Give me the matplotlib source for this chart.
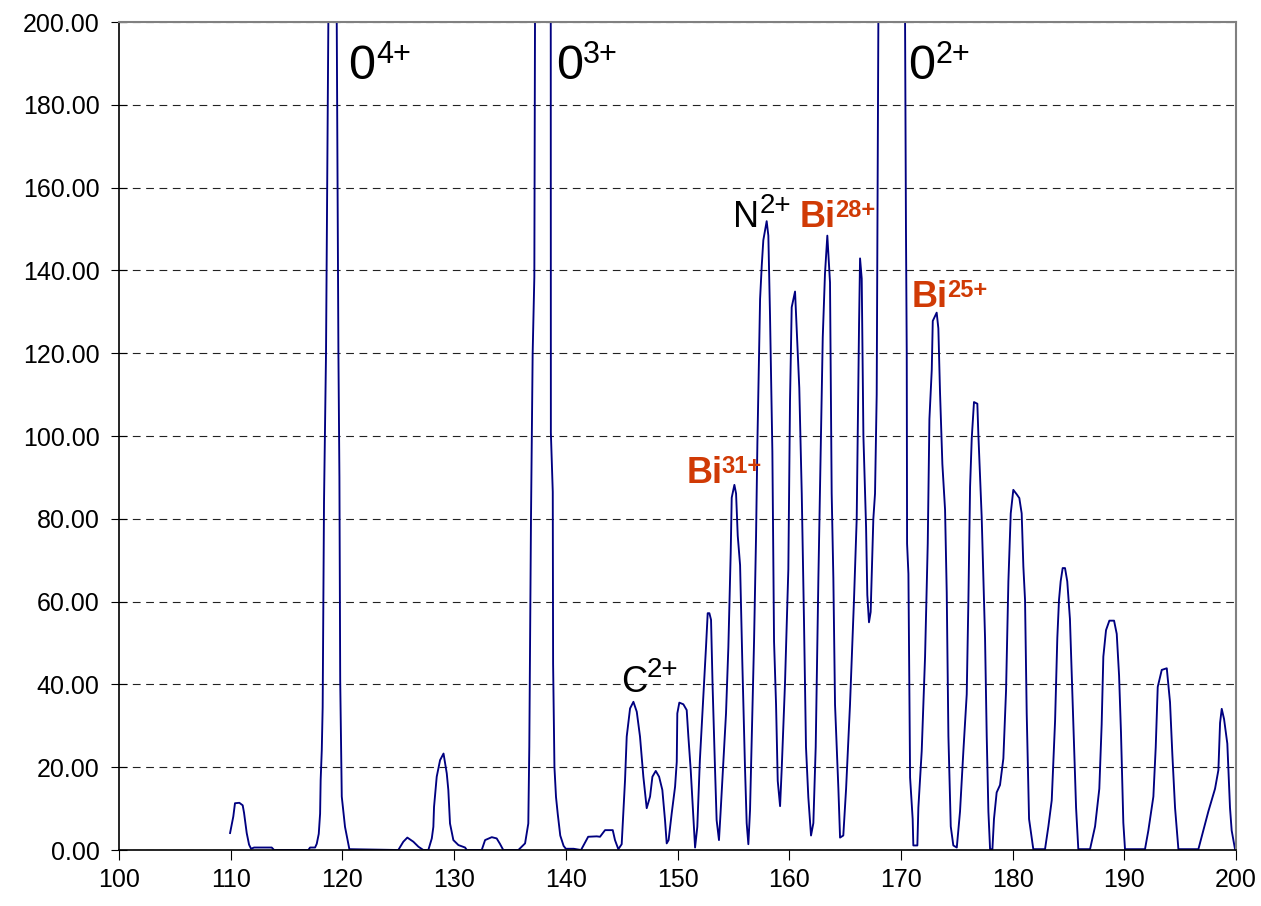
import numpy as np
import matplotlib.pyplot as plt

plt.rcParams['font.family'] = ['Liberation Sans', 'DejaVu Sans']

# spectrum trace: mass-to-charge position and counts
pos = [109.94, 110.23, 110.38, 110.77, 111.07, 111.19, 111.43, 111.64, 111.82, 112.09,
       113.67, 113.88, 116.95, 117.1, 117.55, 117.7, 117.88, 118.0, 118.05, 118.15,
       118.23, 118.35, 118.53, 118.74, 119.1, 119.49, 119.64, 119.73, 119.8, 119.94,
       120.23, 120.62, 125.0, 125.45, 125.81, 126.35, 126.8, 127.24, 127.69, 128.0,
       128.14, 128.2, 128.44, 128.74, 129.05, 129.34, 129.48, 129.63, 129.93, 130.38,
       130.98, 131.13, 132.47, 132.77, 133.37, 133.81, 134.1, 134.4, 135.75, 136.35,
       136.64, 136.73, 136.88, 137.03, 137.18, 137.24, 137.95, 138.65, 138.66, 138.83,
       138.86, 138.98, 139.12, 139.28, 139.5, 139.8, 140.0, 140.7, 141.36, 142.0,
       142.77, 143.06, 143.51, 144.2, 144.4, 144.7, 145.0, 145.3, 145.45, 145.75,
       146.05, 146.35, 146.64, 146.94, 147.24, 147.54, 147.75, 148.05, 148.35, 148.64,
       148.88, 149.03, 149.2, 149.48, 149.78, 149.93, 149.98, 150.16, 150.52, 150.82,
       150.97, 151.18, 151.36, 151.57, 151.77, 152.0, 152.31, 152.55, 152.7, 152.85,
       153.0, 153.14, 153.35, 153.5, 153.71, 153.85, 154.1, 154.34, 154.55, 154.76,
       154.85, 155.09, 155.24, 155.39, 155.6, 155.8, 156.04, 156.19, 156.34, 156.49,
       156.64, 156.85, 157.03, 157.15, 157.3, 157.39, 157.54, 157.68, 157.98, 158.13,
       158.28, 158.49, 158.64, 158.82, 158.97, 159.18, 159.33, 159.62, 159.92, 160.07,
       160.22, 160.52, 160.73, 160.9, 161.12, 161.32, 161.5, 161.71, 161.95, 162.16,
       162.37, 162.61, 162.82, 163.0, 163.2, 163.41, 163.5, 163.65, 163.8, 163.95,
       164.1, 164.4, 164.55, 164.84, 165.09, 165.44, 165.8, 166.04, 166.25, 166.34,
       166.49, 166.64, 166.88, 166.99, 167.14, 167.29, 167.53, 167.68, 167.83, 167.98,
       169.2, 170.37, 170.45, 170.52, 170.55, 170.67, 170.76, 170.82, 171.05, 171.11,
       171.47, 171.56, 171.86, 172.16, 172.4, 172.55, 172.76, 172.85, 173.2, 173.35,
       173.5, 173.71, 173.95, 174.1, 174.25, 174.46, 174.69, 175.0, 175.29, 175.59,
       175.89, 176.04, 176.19, 176.34, 176.54, 176.84, 176.93, 177.23, 177.53, 177.68,
       177.83, 177.98, 178.19, 178.33, 178.57, 178.87, 179.17, 179.41, 179.62, 179.83,
       180.06, 180.37, 180.6, 180.81, 180.96, 181.11, 181.26, 181.47, 181.85, 182.9,
       183.2, 183.5, 183.8, 184.0, 184.15, 184.3, 184.48, 184.69, 184.89, 185.13,
       185.43, 185.68, 185.88, 186.93, 187.38, 187.76, 187.97, 188.12, 188.36, 188.66,
       189.08, 189.32, 189.53, 189.7, 189.91, 190.06, 191.85, 192.15, 192.6, 192.81,
       192.99, 193.35, 193.8, 194.09, 194.3, 194.54, 194.84, 196.63, 197.07, 197.52,
       198.12, 198.42, 198.57, 198.72, 198.93, 199.22, 199.46, 199.61, 199.91]
counts = [4.1, 8.1, 11.3, 11.4, 10.8, 9.0, 4.1, 1.3, 0.3, 0.6,
          0.6, 0.0, 0.0, 0.6, 0.6, 1.5, 3.9, 8.8, 16.9, 24.1,
          34.5, 84, 120, 200.8, 330, 200, 120, 90, 41, 12.9,
          5.6, 0.2, 0.0, 2.0, 3.0, 2.0, 0.8, 0.0, 0.0, 2.8,
          5.6, 10.4, 17.7, 21.7, 23.3, 18.5, 14.5, 6.4, 2.4, 1.2,
          0.6, 0.0, 0.0, 2.4, 3.1, 2.8, 1.5, 0.0, 0.0, 1.6,
          6.4, 25, 80, 120, 138.4, 200.8, 420, 200, 100.8, 86.5,
          45, 20, 12.8, 8.6, 3.5, 1.0, 0.3, 0.3, 0.0, 3.2,
          3.3, 3.2, 4.8, 4.8, 2.4, 0.2, 1.4, 16.9, 27.4, 34.2,
          35.8, 33.4, 27.4, 17.7, 10.1, 12.9, 17.7, 19.1, 17.7, 14.5,
          7.2, 1.6, 2.4, 8.9, 15.3, 21.3, 33.0, 35.6, 35.2, 33.8,
          27.4, 19.3, 10.5, 0.6, 5.6, 21.7, 37, 49.1, 57.2, 57.2,
          55.6, 39.5, 20.1, 7.2, 2.4, 8.9, 21, 33, 49, 71.8,
          85.1, 88.2, 86.1, 75.9, 68.8, 45.3, 19.8, 6.5, 1.4, 9.6,
          26.9, 50.4, 75.9, 98.4, 120.8, 133.1, 141.2, 147.3, 151.9, 148.4,
          129, 96.3, 50.4, 35.1, 16.7, 10.6, 19.8, 40.2, 67.8, 108.6,
          131.1, 134.9, 121.8, 111.6, 86.1, 55.5, 24.9, 12.7, 3.5, 6.5,
          24.9, 65.7, 96.3, 123.8, 139.2, 148.4, 144.3, 137.1, 86.1, 65.7,
          35.1, 14.8, 3, 3.5, 14.8, 35.1, 60.6, 80, 127, 142.9,
          138, 100, 77.9, 61.6, 55, 57.5, 80, 86.1, 110, 200.8,
          480, 200, 150, 120, 74, 66.7, 37.6, 17.5, 7.5, 1.1,
          1.1, 10.2, 23.9, 46.7, 74, 104.1, 116, 127.8, 129.8, 126,
          110.5, 93.2, 82.2, 62.2, 27.5, 5.7, 1.1, 0.6, 9.3, 23.9,
          37.6, 60.4, 87.7, 99.5, 108.2, 107.8, 100.5, 80.4, 51.2, 27.5,
          9.3, 0.2, 0.2, 7.5, 13.9, 15.7, 22.1, 38.5, 64.9, 81.3,
          87, 85.9, 85, 81.3, 68.5, 60.4, 33, 7.5, 0.2, 0.2,
          5.7, 12, 31.2, 51.2, 60.4, 64.9, 68.1, 68.1, 64.9, 55.8,
          31.2, 10.2, 0.2, 0.2, 5.7, 14.8, 30.3, 46.7, 53.1, 55.4,
          55.4, 52.2, 42.1, 28.4, 6.6, 0.2, 0.2, 4.7, 12.9, 24.8,
          39.4, 43.5, 43.9, 35.7, 23, 10.2, 0.2, 0.2, 4.7, 9.3,
          14.8, 19.3, 30.7, 34.1, 31.6, 25.7, 10.2, 4.7, 0.2]

# ion labels: base text, superscript, position of base and of superscript
plain_ions = ["0", "0", "0", "C", "N"]
plain_sup = ["4+", "3+", "2+", "2+", "2+"]
plain_xy = [(120.5, 186.2), (139.15, 186.2), (170.65, 186.2), (144.95, 38.2), (155.0, 150.6)]
plain_sup_xy = [(123.0, 190.1), (141.54, 190.1), (173.05, 190.1), (147.25, 41.8), (157.39, 153.9)]
plain_size = [35, 35, 35, 26, 26]
plain_sup_size = [22, 22, 22, 20, 20]

bi_sup = ["31+", "28+", "25+"]
bi_xy = [(150.82, 88.7), (160.9, 150.6), (170.96, 131.2)]
bi_sup_xy = [(153.95, 91.0), (164.1, 153.0), (174.1, 133.6)]

fig = plt.figure(figsize=(12.61, 9.06), dpi=100)
ax = fig.add_axes([0.0944, 0.0618, 0.8858, 0.9139])

ax.plot(pos, counts, color='#000080', lw=1.35)

ax.set_xlim(100, 200)
ax.set_ylim(0, 200)
ax.set_xticks(np.arange(100, 201, 10))
ax.set_yticks(np.arange(0, 201, 20))
ax.set_yticklabels(["%.2f" % v for v in np.arange(0, 201, 20)])
ax.tick_params(axis='both', labelsize=18, colors='black')
ax.tick_params(axis='x', direction='out', length=7, pad=6)
ax.tick_params(axis='y', direction='inout', length=12, pad=8)

ax.yaxis.grid(True, color='#222222', lw=0.8, linestyle=(0, (7, 5)))
ax.set_axisbelow(True)

for side in ['top', 'right']:
    ax.spines[side].set_color('#808080')
    ax.spines[side].set_linewidth(1.5)
for side in ['left', 'bottom']:
    ax.spines[side].set_color('black')
    ax.spines[side].set_linewidth(1.2)

for i in range(len(plain_ions)):
    ax.text(plain_xy[i][0], plain_xy[i][1], plain_ions[i], fontsize=plain_size[i],
            ha='left', va='baseline', color='black')
    ax.text(plain_sup_xy[i][0], plain_sup_xy[i][1], plain_sup[i], fontsize=plain_sup_size[i],
            ha='left', va='baseline', color='black')

for i in range(len(bi_sup)):
    ax.text(bi_xy[i][0], bi_xy[i][1], "Bi", fontsize=26, fontweight='bold',
            ha='left', va='baseline', color='#d03a05')
    ax.text(bi_sup_xy[i][0], bi_sup_xy[i][1], bi_sup[i], fontsize=17, fontweight='bold',
            ha='left', va='baseline', color='#d03a05')

plt.savefig('out.png', dpi=100)
